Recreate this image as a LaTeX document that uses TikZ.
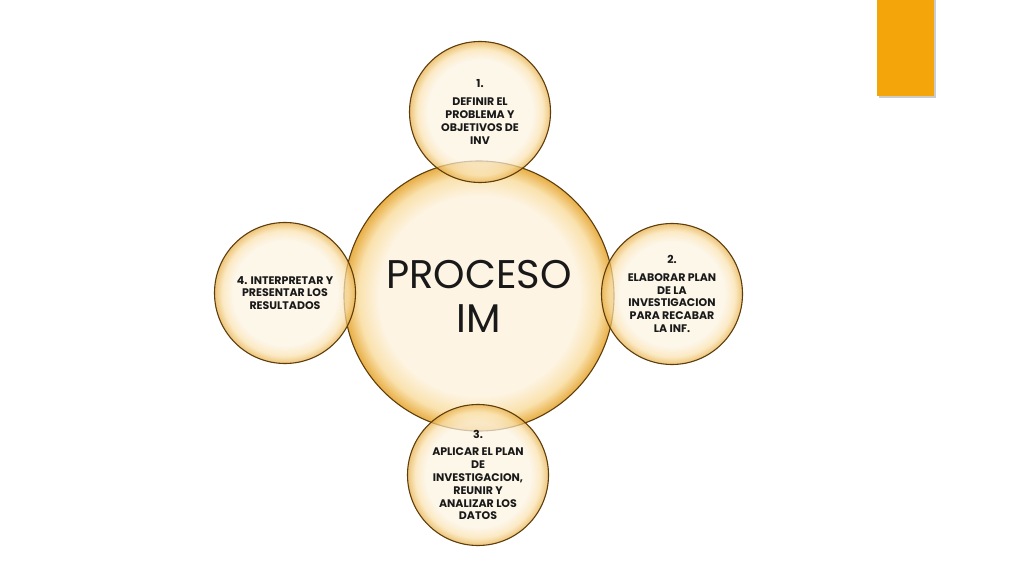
\documentclass[tikz,border=0pt]{standalone}
\usepackage{fontspec}
\setmainfont{Poppins}
\usetikzlibrary{positioning}

\definecolor{bubin}{HTML}{FDF4E3}
\definecolor{bubmid}{HTML}{FAE2AE}
\definecolor{bubout}{HTML}{E8AE45}
\definecolor{bubline}{HTML}{5E3D0C}
\definecolor{tabcol}{HTML}{F4A50A}

\pgfdeclareradialshading{bubshade}{\pgfpoint{0bp}{0bp}}{color(0bp)=(bubin); color(18.5bp)=(bubin); color(22.3bp)=(bubmid); color(25bp)=(bubout); color(50bp)=(bubout)}

\tikzset{
    ball/.style={circle, shade, shading=bubshade, draw=bubline, line width=1.1pt, fill opacity=0.72, text opacity=1, inner sep=0pt, align=center, text=black!90},
    smallball/.style={ball, minimum size=141pt, font=\fontsize{11}{12.8}\selectfont\bfseries},
    bigball/.style={ball, minimum size=270pt, fill opacity=1, font=\fontsize{40}{44}\selectfont}
}

\begin{document}
\begin{tikzpicture}[x=1pt,y=1pt]
    \fill[white] (0,0) rectangle (1024,576);
    \useasboundingbox (0,0) rectangle (1024,576);
    \fill[black!20] (879,478) rectangle (936,576);
    \fill[tabcol] (877,480) rectangle (934,576);
    \node[bigball] (proc) at (479,280) {PROCESO\\IM};
    \node[smallball] (defin) at (480,464) {1.\\[5pt]DEFINIR EL\\PROBLEMA Y\\OBJETIVOS DE\\INV};
    \node[smallball] (elab) at (672,282) {2.\\[5pt]ELABORAR PLAN\\DE LA\\INVESTIGACION\\PARA RECABAR\\LA INF.};
    \node[smallball] (aplic) at (478,101) {3.\\[5pt]APLICAR EL PLAN\\DE\\INVESTIGACION,\\REUNIR Y\\ANALIZAR LOS\\DATOS};
    \node[smallball] (interp) at (285,283) {4. INTERPRETAR Y\\PRESENTAR LOS\\RESULTADOS};
\end{tikzpicture}
\end{document}
